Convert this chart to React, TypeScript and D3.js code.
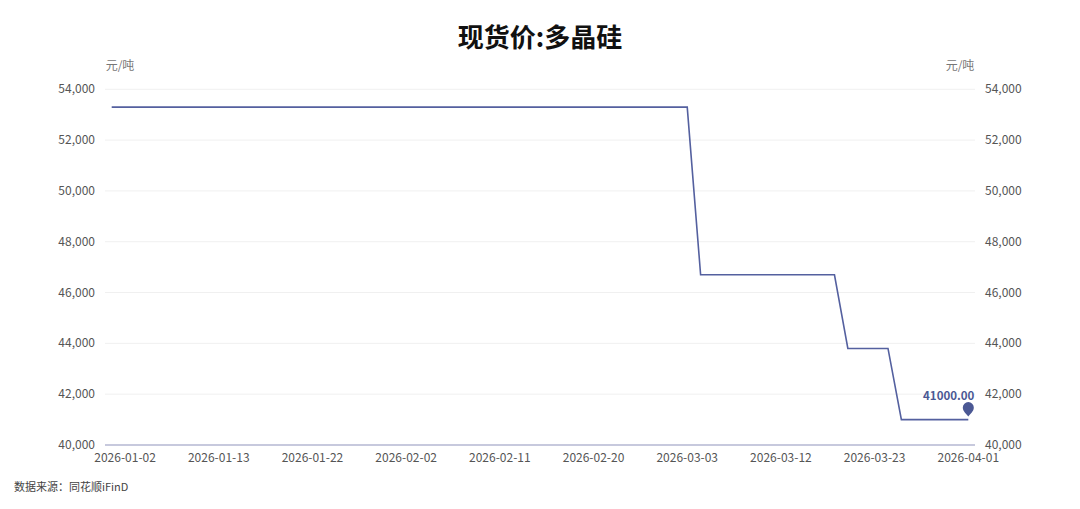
import React from "react";
import * as d3 from "d3";

const title = "现货价:多晶硅";
const unit = "元/吨";
const source = "数据来源：同花顺iFinD";

const dates = [
  "2026-01-01","2026-01-02","2026-01-05","2026-01-06","2026-01-07","2026-01-08","2026-01-09",
  "2026-01-12","2026-01-13","2026-01-14","2026-01-15","2026-01-16","2026-01-19","2026-01-20",
  "2026-01-21","2026-01-22","2026-01-23","2026-01-26","2026-01-27","2026-01-28","2026-01-29",
  "2026-01-30","2026-02-02","2026-02-03","2026-02-04","2026-02-05","2026-02-06","2026-02-09",
  "2026-02-10","2026-02-11","2026-02-12","2026-02-13","2026-02-16","2026-02-17","2026-02-18",
  "2026-02-19","2026-02-20","2026-02-23","2026-02-24","2026-02-25","2026-02-26","2026-02-27",
  "2026-03-02","2026-03-03","2026-03-04","2026-03-05","2026-03-06","2026-03-09","2026-03-10",
  "2026-03-11","2026-03-12","2026-03-13","2026-03-16","2026-03-17","2026-03-18","2026-03-19",
  "2026-03-20","2026-03-23","2026-03-24","2026-03-25","2026-03-26","2026-03-27","2026-03-30",
  "2026-03-31","2026-04-01",
];

const prices = [
  53300,53300,53300,53300,53300,53300,53300,
  53300,53300,53300,53300,53300,53300,53300,
  53300,53300,53300,53300,53300,53300,53300,
  53300,53300,53300,53300,53300,53300,53300,
  53300,53300,53300,53300,53300,53300,53300,
  53300,53300,53300,53300,53300,53300,53300,
  53300,53300,46700,46700,46700,46700,46700,
  46700,46700,46700,46700,46700,46700,43800,
  43800,43800,43800,41000,41000,41000,41000,
  41000,41000,
];

const xTickLabels = [
  "2026-01-02","2026-01-13","2026-01-22","2026-02-02","2026-02-11",
  "2026-02-20","2026-03-03","2026-03-12","2026-03-23","2026-04-01",
];

const yTicks = [40000, 42000, 44000, 46000, 48000, 50000, 52000, 54000];

export default function App() {
  const W = 1080, H = 509;
  const left = 105, right = 975, top = 89.3, bottom = 445;
  const x = d3.scaleBand<string>().domain(dates).range([left, right]).padding(0);
  const cx = (d: string) => (x(d) as number) + x.bandwidth() / 2;
  const y = d3.scaleLinear().domain([40000, 54000]).range([bottom, top]);
  const fmt = d3.format(",");
  const line = d3.line<number>().x((_, i) => cx(dates[i])).y((v) => y(v));
  const lastI = prices.length - 1;
  const lx = cx(dates[lastI]);
  const ly = y(prices[lastI]);
  const font = "'Microsoft YaHei', 'Noto Sans CJK SC', 'Noto Sans', sans-serif";
  const lineColor = "#54609f";
  const pin = "M0,0 C-2,-3 -5.5,-5 -5.5,-9 A5.5,5.5 0 1 1 5.5,-9 C5.5,-5 2,-3 0,0 Z";
  return (
    <svg width={W} height={H} style={{ display: "block", position: "absolute", left: 0, top: 0 }} fontFamily={font}>
      <rect width={W} height={H} fill="#fff" />
      <text x={540} y={47} textAnchor="middle" fontSize={26} fontWeight="bold" fill="#111">{title}</text>
      <text x={120} y={70} textAnchor="middle" fontSize={12} fill="#777">{unit}</text>
      <text x={960} y={70} textAnchor="middle" fontSize={12} fill="#777">{unit}</text>
      {yTicks.map((t) => (
        <g key={t}>
          {t !== 40000 && <line x1={left} x2={right} y1={y(t)} y2={y(t)} stroke="#f0f0f0" strokeWidth={1} />}
          <text x={95} y={y(t) + 4} textAnchor="end" fontSize={12} fill="#555">{fmt(t)}</text>
          <text x={985} y={y(t) + 4} textAnchor="start" fontSize={12} fill="#555">{fmt(t)}</text>
        </g>
      ))}
      <line x1={left} x2={right} y1={bottom} y2={bottom} stroke="#b4b7d2" strokeWidth={1.5} />
      {xTickLabels.map((d) => (
        <text key={d} x={cx(d)} y={462} textAnchor="middle" fontSize={12} fill="#555">{d}</text>
      ))}
      <path d={line(prices) as string} fill="none" stroke={lineColor} strokeWidth={1.6} />
      <path d={pin} transform={`translate(${lx},${ly - 3})`} fill="#4b5894" />
      <text x={lx + 6} y={ly - 20} textAnchor="end" fontSize={11.5} fontWeight="bold" fill="#4b5894">{prices[lastI].toFixed(2)}</text>
      <text x={14} y={491} fontSize={11} fill="#444">{source}</text>
    </svg>
  );
}
